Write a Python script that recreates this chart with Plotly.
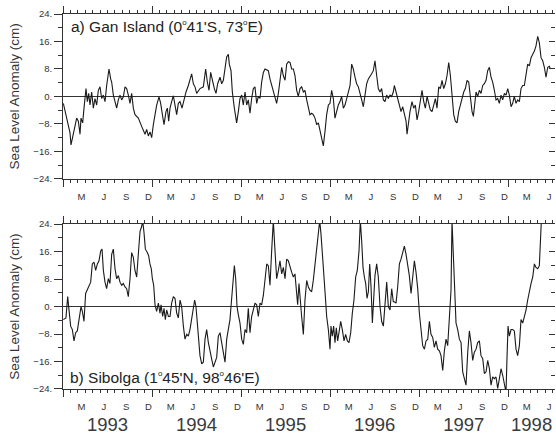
import plotly.graph_objects as go

# time axis: months elapsed since 1 Jan 1993
gan_months = [0.045, 0.494, 0.719, 0.944, 1.078, 1.393, 1.617, 1.842, 2.067, 2.291, 2.426, 2.651, 2.830, 3.100, 3.279, 3.459, 3.639, 3.863, 4.088, 4.313, 4.537, 4.762, 4.986, 5.211, 5.436, 5.660, 5.885, 6.199, 6.424, 6.559, 6.783, 7.008, 7.232, 7.457, 7.682, 7.906, 8.131, 8.355, 8.580, 8.805, 9.029, 9.254, 9.478, 9.703, 10.152, 10.601, 10.826, 11.051, 11.275, 11.500, 11.724, 11.949, 12.174, 12.398, 12.623, 12.937, 13.162, 13.431, 13.611, 13.880, 14.060, 14.240, 14.420, 14.644, 14.869, 15.093, 15.318, 15.543, 15.767, 16.037, 16.306, 16.576, 16.890, 17.115, 17.339, 17.564, 17.789, 18.013, 18.238, 18.462, 18.912, 19.226, 19.451, 19.675, 19.900, 20.169, 20.394, 20.619, 20.843, 21.158, 21.382, 21.607, 21.832,
              22.055, 22.28, 22.41, 22.64, 22.82, 23.09, 23.40, 23.63, 23.85, 24.08, 24.30, 24.53, 24.75, 24.97, 25.20, 25.42, 25.65, 25.87, 26.10, 26.32, 26.55, 26.77, 27.00, 27.22, 27.45, 27.67, 27.89, 28.12, 28.34, 28.57, 28.79, 29.02, 29.24, 29.47, 29.69, 29.92, 30.14, 30.37, 30.59, 30.81, 31.04, 31.26, 31.49, 31.71, 31.94, 32.16, 32.39, 32.61, 32.84, 33.06, 33.28, 33.51, 33.73, 33.96, 34.18, 34.41, 34.63, 34.86, 35.08, 35.31, 35.53, 35.76, 35.98, 36.20, 36.43, 36.65, 36.88, 37.10, 37.33, 37.55, 37.78, 38.00, 38.23, 38.45, 38.68, 38.90, 39.12, 39.35, 39.57, 39.80, 40.02, 40.25, 40.47, 40.70, 40.92, 41.15, 41.37, 41.59, 41.82, 42.04, 42.27, 42.49, 42.72, 42.94, 43.17, 43.39, 43.62, 43.84, 44.07, 44.29, 44.51,
              44.65, 44.88, 45.10, 45.33, 45.55, 45.78, 46.00, 46.23, 46.36, 46.58, 46.76, 47.03, 47.26, 47.48, 47.71, 47.93, 48.16, 48.38, 48.61, 48.83, 49.06, 49.28, 49.50, 49.73, 49.95, 50.18, 50.40, 50.63, 50.85, 51.08, 51.30, 51.53, 51.75, 51.98, 52.20, 52.42, 52.65, 52.87, 53.10, 53.32, 53.55, 53.77, 54.00, 54.22, 54.45, 54.67, 54.90, 55.12, 55.30, 55.48, 55.66, 55.88, 56.11, 56.33, 56.56, 56.78, 57.01, 57.23, 57.46, 57.68, 57.90, 58.13, 58.35, 58.58, 58.80, 59.03, 59.25, 59.48, 59.70, 59.93, 60.15, 60.38, 60.60, 60.82, 61.05, 61.27, 61.50, 61.72, 61.95, 62.17, 62.40, 62.62, 62.85, 63.07, 63.30, 63.52, 63.74, 63.97, 64.19, 64.42, 64.64, 64.87, 65.09, 65.32, 65.54, 65.68]
gan_sla = [-2.0, -6.3, -8.2, -10.6, -14.1, -11.0, -8.7, -6.3, -7.2, -11.0, -6.3, -7.7, -3.4, 2.3, -1.5, 0.9, -2.5, 1.3, -3.4, -0.6, -2.5, 1.8, 2.8, -0.6, 0.4, -1.5, 3.2, 8.0, 5.1, 4.2, 0.4, -2.0, -3.4, -1.0, 0.4, -1.0, -0.1, 2.8, 2.3, 0.4, -2.0, 0.9, -3.4, -5.3, -6.3, -8.7, -10.1, -11.0, -9.6, -11.5, -10.3, -12.0, -8.2, -5.3, -2.5, -0.1, -2.0, -5.8, -8.2, -4.4, -3.4, -7.2, -3.4, -1.5, 0.2, -2.5, -5.3, -2.0, -1.5, -3.4, -0.6, 1.3, 3.2, 4.7, 6.6, 3.7, 2.8, 0.9, 1.8, 2.3, 2.8, 8.0, 4.2, 1.8, 7.0, 4.2, 2.3, 0.9, 3.7, 5.6, 3.7, 4.7, 8.5,
           11.5, 12.3, 9.4, 7.5, 1.3, -3.4, -7.7, -4.4, -0.6, 0.4, -2.5, 1.3, -2.5, -1.0, -4.9, -0.6, 2.3, 2.8, -2.0, 0.0, -0.6, 4.2, 7.0, 8.0, 7.8, 7.5, 5.1, 3.2, 1.8, 0.0, -2.0, 0.9, 4.2, 8.5, 6.1, 4.7, 9.4, 10.1, 9.9, 8.0, 8.0, 6.1, 1.8, 0.0, 2.3, 2.8, 1.3, 1.8, -1.0, -3.4, -5.3, -4.9, -5.3, -6.3, -8.2, -7.7, -10.1, -12.5, -14.4, -10.1, -5.3, -2.5, -2.0, 1.8, -0.6, -6.3, -4.4, -2.5, -1.5, 0.0, -3.4, -2.5, -0.6, 1.3, 3.2, 9.4, 8.0, 5.6, 3.7, 2.8, 0.4, -1.0, -3.0, 1.3, 3.7, 5.1, 6.1, 6.6, 7.5, 10.4, 6.1, 2.3, 1.3, 2.3, -1.0, -1.5, 0.4, -0.6, 0.4, 0.0, 1.3,
           3.2, 1.3, -0.6, -2.5, -4.4, -3.0, -5.3, -7.2, -11.0, -6.3, -4.4, -1.5, -3.4, -2.5, -6.8, -4.4, -0.6, 1.8, -1.5, -3.4, 0.0, -2.5, -3.9, -4.4, -2.5, -0.6, -3.4, 2.8, 2.3, 4.7, 2.3, 3.7, 6.1, 9.9, 6.1, 0.9, -5.3, -7.2, -7.7, -4.4, -2.5, 0.0, 1.3, 2.3, 4.7, 4.2, -0.6, -4.4, -5.8, -2.0, 1.3, 0.0, 1.8, 0.9, 3.2, 3.7, 4.7, 7.5, 8.5, 5.6, 4.2, 1.8, -1.0, -0.6, -2.0, 0.4, -1.0, 0.9, 0.4, 2.3, 0.4, -3.0, -2.0, 0.0, -2.0, -1.0, -1.5, 2.3, 3.2, 3.2, 6.1, 9.4, 8.9, 11.3, 12.3, 13.2, 14.7, 17.5, 15.6, 11.3, 10.4, 8.5, 5.6, 8.5, 8.8, 8.0]

sib_months = [0.045, 0.40, 0.63, 0.81, 1.03, 1.26, 1.48, 1.71, 1.93, 2.16, 2.43, 2.61, 2.83, 3.05, 3.28, 3.50, 3.73, 3.95, 4.18, 4.40, 4.63, 4.85, 5.08, 5.26, 5.44, 5.66, 5.88, 6.11, 6.33, 6.56, 6.78, 7.01, 7.23, 7.46, 7.68, 7.91, 8.13, 8.36, 8.58, 8.80, 9.03, 9.25, 9.48, 9.70, 9.93, 10.15, 10.38, 10.60, 10.74, 10.92, 11.10, 11.36, 11.54, 11.72, 11.90, 12.04, 12.22, 12.40, 12.62, 12.85, 13.07, 13.21, 13.43, 13.61, 13.79, 13.97, 14.20, 14.42, 14.64, 14.87, 15.09, 15.32, 15.54, 15.77, 15.99, 16.22, 16.44, 16.67, 16.89, 17.11, 17.34, 17.56, 17.74, 17.92, 18.10, 18.28, 18.46, 18.69, 18.91, 19.14, 19.36, 19.59, 19.81, 20.03, 20.26, 20.48, 20.71, 20.93, 21.16, 21.38, 21.61, 21.83,
              22.06, 22.28, 22.50, 22.73, 22.95, 23.09, 23.27, 23.45, 23.63, 23.85, 24.08, 24.30, 24.53, 24.75, 24.97, 25.20, 25.42, 25.65, 25.87, 26.10, 26.32, 26.55, 26.77, 27.00, 27.22, 27.45, 27.67, 27.89, 28.12, 28.34, 28.57, 28.79, 29.02, 29.24, 29.47, 29.69, 29.92, 30.14, 30.37, 30.59, 30.81, 31.04, 31.26, 31.49, 31.62, 31.80, 31.98, 32.16, 32.39, 32.61, 32.84, 33.06, 33.28, 33.51, 33.73, 33.96, 34.18, 34.41, 34.59, 34.77, 34.95, 35.17, 35.40, 35.53, 35.76, 35.98, 36.11, 36.29, 36.47, 36.65, 36.83, 37.01, 37.19, 37.42, 37.64, 37.87, 38.09, 38.32, 38.54, 38.77, 38.99, 39.21, 39.44, 39.66, 39.89, 40.07, 40.25, 40.43, 40.61, 40.79, 40.97, 41.15, 41.33, 41.51, 41.69, 41.86, 42.04, 42.27, 42.49, 42.72, 42.94, 43.17, 43.39, 43.62, 43.84, 44.07, 44.29, 44.51,
              44.65, 44.88, 45.10, 45.33, 45.55, 45.78, 46.00, 46.23, 46.45, 46.67, 46.90, 47.12, 47.35, 47.57, 47.80, 48.02, 48.25, 48.47, 48.70, 48.92, 49.15, 49.37, 49.59, 49.82, 50.04, 50.27, 50.49, 50.72, 50.94, 51.17, 51.39, 51.62, 51.84, 52.06, 52.29, 52.42, 52.60, 52.78, 52.96, 53.19, 53.41, 53.64, 53.86, 54.09, 54.31, 54.54, 54.76, 54.98, 55.21, 55.43, 55.66, 55.88, 56.11, 56.33, 56.56, 56.78, 57.01, 57.23, 57.46, 57.68, 57.90, 58.13, 58.35, 58.58, 58.80, 59.03, 59.25, 59.48, 59.70, 59.84, 59.97, 60.15, 60.38, 60.60, 60.82, 61.05, 61.27, 61.50, 61.72, 61.95, 62.17, 62.40, 62.62, 62.85, 63.07, 63.30, 63.52, 63.74, 63.97, 64.19, 64.33, 64.46, 64.80, 65.60]
sib_sla = [-3.8, -3.3, 2.9, -1.0, -5.7, -6.7, -10.0, -7.6, -7.1, -3.8, 0.0, -1.4, -4.3, 3.8, 4.8, 5.7, 7.1, 12.4, 12.9, 10.5, 12.4, 13.3, 16.2, 16.7, 10.5, 7.1, 5.2, 8.1, 6.7, 15.2, 16.7, 11.0, 8.1, 9.0, 7.1, 6.2, 6.7, 5.7, 5.2, 2.9, 8.1, 15.7, 14.3, 10.5, 8.6, 15.2, 21.9, 23.3, 25.0, 21.4, 16.7, 15.7, 14.8, 12.4, 11.0, 8.1, 6.2, 0.5, -1.4, 1.0, -1.9, 0.5, -2.9, -0.5, -3.8, -1.0, -2.9, -2.9, 1.0, 2.9, 2.4, -1.9, -3.3, 1.9, 0.0, -5.7, -9.5, -8.1, -8.6, -6.7, -3.8, 0.0, 1.9, 0.0, -5.7, -10.5, -14.3, -16.7, -16.2, -9.5, -6.7, -10.5, -13.3, -15.2, -17.6, -16.2, -14.8, -8.6, -7.6, -10.5, -13.3, -16.2,
           -9.5, -7.1, -3.8, 2.4, 9.5, 11.9, 8.1, 0.0, -2.4, -4.8, -9.5, -11.0, -6.7, -7.6, -0.5, -7.6, -2.9, -1.0, 1.0, 0.5, -2.9, 1.0, 0.5, 3.3, 9.0, 12.4, 11.9, 6.2, 16.2, 25.0, 16.2, 8.1, 10.5, 13.3, 9.5, 11.4, 8.1, 13.8, 13.3, 11.4, 10.0, 8.6, 9.5, 3.8, 0.5, 6.7, 0.0, -2.9, -8.1, 1.9, 7.6, 5.7, 4.8, 4.3, 7.6, 12.4, 15.7, 20.0, 25.0, 21.0, 16.2, 8.6, 1.4, -2.9, -6.7, -12.4, -5.7, -8.6, -5.7, -10.5, -6.2, -10.0, -7.6, -4.3, -6.7, -10.0, -8.1, -10.0, -10.5, -7.6, -1.9, 1.9, 8.6, 10.5, 16.2, 25.0, 19.0, 11.4, 8.6, 6.7, 2.4, 4.3, 12.4, 5.7, -4.8, 1.9, 9.0, 12.4, 8.6, 0.0, -4.3, -5.7, 1.9, 7.1, 0.0, -1.0, 5.2, 1.4,
           1.4, 1.0, 5.7, 12.4, 13.8, 16.2, 17.6, 15.2, 12.4, 9.0, 3.8, 9.5, 13.3, 10.0, 5.2, -1.9, -6.7, -11.4, -12.4, -10.0, -9.5, -4.3, -8.1, -9.0, -11.9, -10.0, -12.4, -12.9, -14.3, -18.6, -12.9, -9.5, -11.4, -4.8, 4.8, 25.0, 14.3, 5.7, -4.8, -6.7, -9.5, -10.5, -19.0, -21.0, -22.9, -13.3, -7.1, -10.5, -15.7, -13.3, -12.4, -10.5, -10.0, -14.3, -15.2, -19.5, -19.0, -15.7, -18.1, -22.9, -20.5, -21.0, -20.5, -23.8, -21.0, -18.1, -20.0, -22.9, -25.0, -14.3, -5.7, -8.6, -6.7, -6.7, -7.1, -12.4, -14.3, -11.4, -3.8, -4.8, -2.9, -1.0, 1.9, 4.8, 6.7, 8.6, 12.4, 11.4, 11.0, 11.9, 19.0, 25.0, 27.0, 28.0]

x_range = [0, 66.3]
year_starts = [0, 12, 24, 36, 48, 60]
years = ["1993", "1994", "1995", "1996", "1997", "1998"]
month_letters = ["M", "J", "S", "D"]
month_offsets = [2.5, 5.5, 8.5, 11.5]
y_tickvals = [24, 16, 8, 0, -8, -16, -24]
y_ticktext = ["24.", "16.", "8.", "0.", "\u22128.", "\u221216.", "\u221224."]

month_vals, month_text = [], []
for ys in year_starts:
    for off, lab in zip(month_offsets, month_letters):
        if ys + off <= x_range[1]:
            month_vals.append(ys + off)
            month_text.append(lab)
year_vals = [(ys + min(ys + 12, x_range[1])) / 2 for ys in year_starts]

FONT = "Liberation Sans, Arial, sans-serif"
AX = "#333333"
INK = "#1a1a1a"
DEG = "<sup><span style='font-size:8px'>o</span></sup>"

fig = go.Figure()
fig.add_trace(go.Scatter(x=gan_months, y=gan_sla, mode="lines",
                         line=dict(color=INK, width=1.1), xaxis="x", yaxis="y",
                         showlegend=False, hoverinfo="skip"))
fig.add_trace(go.Scatter(x=sib_months, y=sib_sla, mode="lines",
                         line=dict(color=INK, width=1.1), xaxis="x2", yaxis="y2",
                         showlegend=False, hoverinfo="skip"))
# empty traces to anchor the overlay axes
for xa, ya in [("x3", "y"), ("x4", "y2"), ("x5", "y2"), ("x", "y3"), ("x2", "y4")]:
    fig.add_trace(go.Scatter(x=[None], y=[None], xaxis=xa, yaxis=ya,
                             showlegend=False, hoverinfo="skip"))

xbase = dict(range=x_range, showgrid=False, zeroline=False, showline=True,
             linecolor=AX, linewidth=1, mirror="ticks", ticks="outside",
             tickmode="array", tickvals=year_starts, ticklen=7, tickwidth=1,
             tickcolor=AX, showticklabels=False,
             minor=dict(tickmode="linear", tick0=0, dtick=1, ticklen=3,
                        ticks="outside", tickcolor=AX, tickwidth=1))
ybase = dict(range=[-24, 24], showgrid=False, zeroline=True, zerolinecolor=AX,
             zerolinewidth=1, showline=True, linecolor=AX, linewidth=1,
             ticks="outside", tickmode="array", tickvals=y_tickvals,
             ticktext=y_ticktext, ticklen=8, tickwidth=1, tickcolor=AX,
             tickfont=dict(family=FONT, size=9.5, color="#333"),
             minor=dict(tickmode="linear", tick0=0, dtick=4, ticklen=4,
                        ticks="outside", tickcolor=AX, tickwidth=1),
             title=dict(text="Sea Level Anomaly (cm)",
                        font=dict(family=FONT, size=13.5, color="#333"),
                        standoff=10))
yright = dict(range=[-24, 24], showgrid=False, zeroline=False, showline=False,
              side="right", ticks="inside", tickmode="array", tickvals=y_tickvals,
              ticklen=6, tickcolor=AX, showticklabels=False,
              minor=dict(tickmode="linear", tick0=0, dtick=4, ticklen=4,
                         ticks="inside", tickcolor=AX))
monthax = dict(range=x_range, showgrid=False, zeroline=False, showline=False,
               tickmode="array", tickvals=month_vals, ticktext=month_text,
               ticks="outside", ticklen=9, tickcolor="rgba(0,0,0,0)",
               tickfont=dict(family=FONT, size=9.5, color="#333"), side="bottom")

top_dom = [1 - 168 / 382, 1]
bot_dom = [0, 168 / 382]

fig.update_layout(
    width=556, height=436,
    margin=dict(l=63, r=1, t=14, b=40),
    paper_bgcolor="white", plot_bgcolor="white",
    font=dict(family=FONT, color="#222"),
    xaxis=dict(xbase, domain=[0, 1], anchor="y"),
    xaxis2=dict(xbase, domain=[0, 1], anchor="y2"),
    xaxis3=dict(monthax, overlaying="x", anchor="y"),
    xaxis4=dict(monthax, overlaying="x2", anchor="y2"),
    xaxis5=dict(range=x_range, showgrid=False, zeroline=False, showline=False,
                tickmode="array", tickvals=year_vals, ticktext=years,
                ticks="outside", ticklen=19, tickcolor="rgba(0,0,0,0)",
                tickfont=dict(family=FONT, size=18.5, color="#3a3a3a"),
                side="bottom", overlaying="x2", anchor="y2"),
    yaxis=dict(ybase, domain=top_dom, anchor="x"),
    yaxis2=dict(ybase, domain=bot_dom, anchor="x2"),
    yaxis3=dict(yright, overlaying="y", anchor="x"),
    yaxis4=dict(yright, overlaying="y2", anchor="x2"),
)

fig.add_annotation(text=f"a) Gan Island (0{DEG}41'S, 73{DEG}E)",
                   xref="x domain", yref="y domain", x=0.012, y=0.926,
                   xanchor="left", yanchor="middle", showarrow=False,
                   font=dict(family=FONT, size=15.5, color="#222"))
fig.add_annotation(text=f"b) Sibolga (1{DEG}45'N, 98{DEG}46'E)",
                   xref="x2 domain", yref="y2 domain", x=0.010, y=0.068,
                   xanchor="left", yanchor="middle", showarrow=False,
                   font=dict(family=FONT, size=15.5, color="#222"))

fig.write_html("out.html")
